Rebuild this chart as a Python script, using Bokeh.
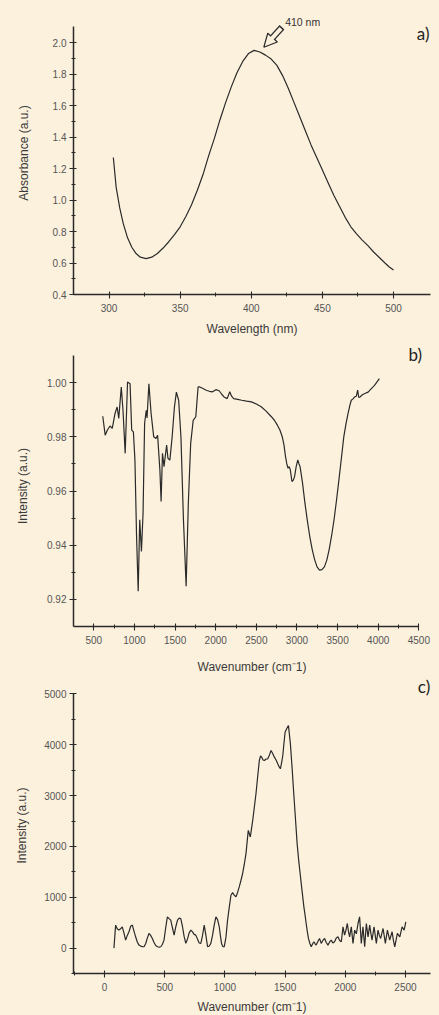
from bokeh.plotting import figure
from bokeh.layouts import column
from bokeh.models import (FixedTicker, Label, Arrow, NormalHead, Range1d,
                          NumeralTickFormatter)
from bokeh.embed import file_html
from bokeh.resources import INLINE

BG = "#fcf1dd"
INK = "#2a2a2a"
TICK_COLOR = "#555555"
TITLE_COLOR = "#3a3a3a"
FONT = "Liberation Sans"

# ---------------- a) UV-Vis absorbance ----------------
uv_wavelength = [303, 305, 307.5, 310, 313, 316, 319, 322, 326, 330, 334, 338, 342, 346,
                 350, 354, 358, 362, 366, 370, 374, 378, 382, 386, 390, 394, 398, 402,
                 406, 410, 414, 418, 422, 426, 430, 434, 438, 442, 446, 450, 454, 458,
                 462, 466, 470, 474, 478, 482, 486, 490, 494, 497, 500]
uv_absorbance = [1.27, 1.08, 0.95, 0.85, 0.76, 0.70, 0.66, 0.637, 0.628, 0.637, 0.66, 0.695,
                 0.735, 0.78, 0.83, 0.895, 0.97, 1.06, 1.16, 1.28, 1.39, 1.51, 1.62, 1.72,
                 1.81, 1.88, 1.93, 1.95, 1.94, 1.92, 1.895, 1.855, 1.79, 1.71, 1.62, 1.53,
                 1.44, 1.35, 1.27, 1.19, 1.11, 1.03, 0.96, 0.89, 0.83, 0.785, 0.745, 0.71,
                 0.67, 0.635, 0.60, 0.575, 0.555]
uv_xticks = [300, 350, 400, 450, 500]
uv_xminor = [325, 375, 425, 475]
uv_yticks = [0.4, 0.6, 0.8, 1.0, 1.2, 1.4, 1.6, 1.8, 2.0]
uv_yminor = [0.5, 0.7, 0.9, 1.1, 1.3, 1.5, 1.7, 1.9]
uv_peak_label = "410 nm"

# ---------------- b) FTIR ----------------
ir_wavenumber = [610, 640, 667, 700, 727, 760, 787, 807, 838, 859, 886, 915, 946, 966, 987,
                 1006, 1026, 1046, 1065, 1086, 1106, 1125, 1145, 1155, 1178, 1205, 1237,
                 1265, 1285, 1313, 1328, 1345, 1364, 1396, 1412, 1436, 1464, 1492, 1516,
                 1544, 1572, 1603, 1636, 1663, 1692, 1723, 1755, 1783, 1803, 1843, 1883,
                 1922, 1962, 2002, 2042, 2072, 2102, 2141, 2173, 2195, 2221, 2271, 2321,
                 2380, 2440, 2500, 2560, 2620, 2679, 2720, 2759, 2790, 2819, 2840, 2859,
                 2875, 2890, 2905, 2918, 2938, 2955, 2970, 2990, 3010, 3025, 3038, 3068,
                 3098, 3128, 3157, 3187, 3217, 3247, 3277, 3307, 3337, 3367, 3396, 3426,
                 3456, 3486, 3516, 3546, 3576, 3603, 3628, 3650, 3668, 3690, 3708, 3730,
                 3747, 3760, 3775, 3805, 3835, 3875, 3915, 3954, 3985, 4014]
ir_intensity = [0.9876, 0.9806, 0.9825, 0.9840, 0.9831, 0.9885, 0.9910, 0.9868, 0.9984,
                0.9898, 0.9739, 1.0002, 0.9996, 0.9825, 0.9818, 0.9714, 0.9433, 0.9230,
                0.9494, 0.9377, 0.9519, 0.9850, 0.9898, 0.9870, 0.9996, 0.9886, 0.9800,
                0.9794, 0.9806, 0.9678, 0.9561, 0.9739, 0.9690, 0.9770, 0.9721, 0.9714,
                0.9800, 0.9910, 0.9965, 0.9935, 0.9800, 0.9494, 0.9249, 0.9555, 0.9776,
                0.9861, 0.9874, 0.9984, 0.9984, 0.9978, 0.9972, 0.9968, 0.9966, 0.9974,
                0.9970, 0.9958, 0.9947, 0.9941, 0.9966, 0.9950, 0.9941, 0.9938, 0.9935,
                0.9932, 0.9929, 0.9921, 0.9911, 0.9895, 0.9876, 0.9862, 0.9843, 0.9825,
                0.9800, 0.9770, 0.9727, 0.9700, 0.9684, 0.9690, 0.9678, 0.9635, 0.9640,
                0.9653, 0.9690, 0.9715, 0.9700, 0.9690, 0.9630, 0.9555, 0.9490, 0.9433,
                0.9385, 0.9347, 0.9320, 0.9308, 0.9310, 0.9320, 0.9345, 0.9384, 0.9435,
                0.9494, 0.9565, 0.9641, 0.9720, 0.9800, 0.9848, 0.9886, 0.9915, 0.9935,
                0.9940, 0.9947, 0.9950, 0.9972, 0.9945, 0.9947, 0.9955, 0.9960, 0.9965,
                0.9978, 0.9990, 1.0003, 1.0015]
ir_xticks = [500, 1000, 1500, 2000, 2500, 3000, 3500, 4000, 4500]
ir_xminor = [750, 1250, 1750, 2250, 2750, 3250, 3750, 4250]
ir_yticks = [0.92, 0.94, 0.96, 0.98, 1.00]
ir_yminor = [0.93, 0.95, 0.97, 0.99]

# ---------------- c) Raman ----------------
raman_wavenumber = [78, 92, 105, 119, 133, 147, 161, 175, 189, 203, 217, 231, 245, 258, 272,
                    286, 300, 314, 328, 342, 356, 369, 383, 397, 411, 425, 439, 453, 467,
                    480, 494, 508, 522, 536, 550, 564, 578, 592, 606, 620, 633, 647, 661,
                    675, 689, 703, 717, 731, 744, 758, 772, 786, 800, 814, 828, 842, 856,
                    870, 883, 897, 911, 925, 939, 953, 962, 972, 983, 994, 1008, 1022, 1036,
                    1050, 1064, 1078, 1092, 1106, 1119, 1133, 1147, 1161, 1175, 1185, 1194,
                    1203, 1211, 1221, 1231, 1245, 1258, 1272, 1286, 1296, 1306, 1317, 1328,
                    1342, 1356, 1370, 1383, 1397, 1411, 1425, 1439, 1450, 1461, 1471, 1481,
                    1490, 1500, 1514, 1528, 1536, 1544, 1558, 1572, 1586, 1600, 1614, 1628,
                    1642, 1656, 1666, 1675, 1685, 1694, 1706, 1717, 1728, 1739, 1748, 1758,
                    1772, 1786, 1800, 1814, 1828, 1842, 1856, 1870, 1883, 1897, 1911, 1925,
                    1939, 1953, 1967, 1981, 1994, 2005, 2017, 2026, 2036, 2050, 2064, 2078,
                    2092, 2106, 2119, 2133, 2147, 2161, 2175, 2189, 2203, 2212, 2222, 2239,
                    2258, 2272, 2283, 2294, 2314, 2333, 2350, 2369, 2389, 2400, 2411, 2433,
                    2453, 2472, 2489, 2503]
raman_intensity = [0, 452, 380, 353, 380, 419, 300, 157, 250, 321, 430, 452, 330, 222, 120,
                   59, 40, 30, 26, 90, 200, 288, 250, 190, 110, 50, 26, 20, 26,
                   70, 157, 400, 615, 580, 550, 400, 255, 420, 550, 590, 582, 430, 230,
                   92, 180, 300, 353, 320, 270, 255, 180, 100, 92, 250, 452, 250, 26,
                   40, 92, 250, 450, 615, 560, 419, 250, 92, 30, 26, 200, 550, 800,
                   1040, 1090, 1040, 1008, 1100, 1204, 1330, 1466, 1650, 1859, 2100, 2317,
                   2250, 2186, 2350, 2513, 2780, 3037, 3370, 3691, 3780, 3757, 3700, 3691,
                   3720, 3724, 3800, 3887, 3830, 3757, 3700, 3626, 3570, 3528, 3650, 3789,
                   4020, 4247, 4320, 4378, 4200, 4018, 3550, 3037, 2550, 2055, 1700, 1400,
                   1100, 812, 650, 484, 320, 190, 90, 26, 80, 124, 90, 59,
                   130, 190, 92, 150, 190, 110, 59, 120, 157, 100, 124, 200,
                   222, 150, 124, 419, 255, 350, 484, 330, 222, 419, 92, 353,
                   280, 484, 615, 92, 419, 26, 484, 222, 452, 300, 157, 419,
                   92, 353, 250, 190, 386, 92, 353, 157, 321, 150, 26, 288,
                   222, 419, 353, 517]
raman_xticks = [0, 500, 1000, 1500, 2000, 2500]
raman_xminor = [-250, 250, 750, 1250, 1750, 2250]
raman_yticks = [0, 1000, 2000, 3000, 4000, 5000]
raman_yminor = [-500, 500, 1500, 2500, 3500, 4500]

panel_tags = ["a)", "b)", "c)"]


def make_panel(height, x_range, x_bounds, y_range, y_bounds, borders, xticks, xminor,
               yticks, yminor, xlabel, ylabel, xstand, ystand):
    top, right, bottom, left = borders
    p = figure(width=439, height=height, output_backend="svg", toolbar_location=None,
               x_range=Range1d(*x_range), y_range=Range1d(*y_range),
               min_border_top=top, min_border_right=right,
               min_border_bottom=bottom, min_border_left=left)
    p.background_fill_color = BG
    p.border_fill_color = BG
    p.outline_line_color = None
    p.xgrid.visible = False
    p.ygrid.visible = False
    p.xaxis.ticker = FixedTicker(ticks=xticks, minor_ticks=xminor)
    p.yaxis.ticker = FixedTicker(ticks=yticks, minor_ticks=yminor)
    p.xaxis.bounds = x_bounds
    p.yaxis.bounds = y_bounds
    for ax in (p.xaxis, p.yaxis):
        ax.axis_line_color = INK
        ax.axis_line_width = 1.5
        ax.major_tick_line_color = INK
        ax.minor_tick_line_color = INK
        ax.major_tick_line_width = 1.1
        ax.minor_tick_line_width = 1.0
        ax.major_tick_in = 3
        ax.major_tick_out = 4
        ax.minor_tick_in = 2
        ax.minor_tick_out = 2
        ax.major_label_text_font = FONT
        ax.major_label_text_font_size = "10px"
        ax.major_label_text_color = TICK_COLOR
        ax.axis_label_text_font = FONT
        ax.axis_label_text_font_size = "12px"
        ax.axis_label_text_font_style = "normal"
        ax.axis_label_text_color = TITLE_COLOR
    p.xaxis.major_label_standoff = 5
    p.yaxis.major_label_standoff = 3
    p.xaxis.axis_label = xlabel
    p.yaxis.axis_label = ylabel
    p.xaxis.axis_label_standoff = xstand
    p.yaxis.axis_label_standoff = ystand
    return p


def tag(p, text, x, y):
    p.add_layout(Label(x=x, y=y, text=text, text_font="Lato", text_font_size="17px",
                       text_color="#222222", text_align="center", text_baseline="middle"))


# panel a
pa = make_panel(344, (275, 526), (275, 526), (0.4, 2.197), (0.4, 2.1), (11, 9, 50, 69),
                uv_xticks, uv_xminor, uv_yticks, uv_yminor,
                "Wavelength (nm)", "Absorbance (a.u.)", 7, 19)
pa.yaxis.formatter = NumeralTickFormatter(format="0.0")
pa.line(uv_wavelength, uv_absorbance, line_color=INK, line_width=1.2)
tag(pa, panel_tags[0], 520.8, 2.06)
# hollow block arrow pointing at the absorption maximum
pa.add_layout(Arrow(x_start=421.6, y_start=2.097, x_end=408.8, y_end=1.97,
                    line_color=INK, line_width=6.5,
                    end=NormalHead(size=13, fill_color=BG, line_color=INK, line_width=1.2)))
pa.add_layout(Arrow(x_start=420.9, y_start=2.090, x_end=412.1, y_end=2.003,
                    line_color=BG, line_width=4.0, end=None))
pa.add_layout(Label(x=423.8, y=2.133, text=uv_peak_label, text_font=FONT,
                    text_font_size="10.5px", text_color="#333333",
                    text_align="left", text_baseline="middle"))

# panel b
pb = make_panel(332, (250, 4643), (250, 4500), (0.91, 1.0137), (0.91, 1.01), (1, 0, 50, 70),
                ir_xticks, ir_xminor, ir_yticks, ir_yminor,
                "Wavenumber (cm\u207b1)", "Intensity (a.u.)", 13, 14)
pb.yaxis.formatter = NumeralTickFormatter(format="0.00")
pb.line(ir_wavenumber, ir_intensity, line_color=INK, line_width=1.2)
tag(pb, panel_tags[1], 4456, 1.0102)

# panel c
pc = make_panel(347, (-258, 2708), (-258, 2708), (-500, 5324), (-500, 5000), (1, 9, 50, 73),
                raman_xticks, raman_xminor, raman_yticks, raman_yminor,
                "Wavenumber (cm\u207b1)", "Intensity (a.u.)", 6, 12)
pc.line(raman_wavenumber, raman_intensity, line_color=INK, line_width=1.2)
tag(pc, panel_tags[2], 2654, 5150)

layout = column(pa, pb, pc, spacing=0)

html = file_html(layout, INLINE)
html = html.replace(
    "</head>",
    "<style>html, body { background: #fcf1dd; margin: 0; padding: 0; overflow: hidden; }</style></head>",
    1)
open("out.html", "w").write(html)
